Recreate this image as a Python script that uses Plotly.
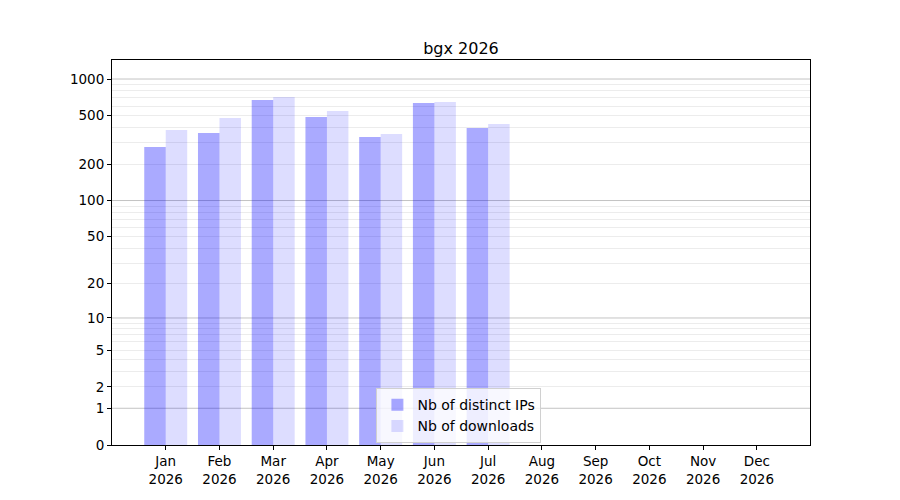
import math
import plotly.graph_objects as go

months = ["Jan", "Feb", "Mar", "Apr", "May", "Jun", "Jul", "Aug", "Sep", "Oct", "Nov", "Dec"]
year = "2026"
distinct_ips = [276, 361, 673, 488, 334, 635, 396, 0, 0, 0, 0, 0]
downloads = [382, 479, 712, 547, 354, 648, 428, 0, 0, 0, 0, 0]
tick_values = [0, 1, 2, 5, 10, 20, 50, 100, 200, 500, 1000]
major_grid = [1, 10, 100, 1000]
minor_grid = [2, 3, 4, 5, 6, 7, 8, 9, 20, 30, 40, 50, 60, 70, 80, 90,
              200, 300, 400, 500, 600, 700, 800, 900]


def tf(v):
    return math.log10(1 + v)


x = list(range(len(months)))
labels = [f"{m}<br>{year}" for m in months]

fig = go.Figure()
fig.add_bar(x=x, y=[tf(v) for v in distinct_ips], name="Nb of distinct IPs",
            marker=dict(color="rgba(0,0,255,0.333)", line=dict(width=0)),
            customdata=distinct_ips, hovertemplate="%{customdata}<extra></extra>")
fig.add_bar(x=x, y=[tf(v) for v in downloads], name="Nb of downloads",
            marker=dict(color="rgba(0,0,255,0.133)", line=dict(width=0)),
            customdata=downloads, hovertemplate="%{customdata}<extra></extra>")

for g in major_grid:
    fig.add_hline(y=tf(g), line=dict(color="#c4c4c4", width=1), layer="below")

fig.update_layout(
    width=900, height=500,
    margin=dict(l=104, r=98, t=52, b=63),
    paper_bgcolor="white", plot_bgcolor="white",
    font=dict(family="DejaVu Sans", size=13.5, color="black"),
    title=dict(text="bgx 2026", x=0.5, xref="paper", xanchor="center",
               y=1, yref="paper", yanchor="bottom", pad=dict(b=6),
               font=dict(size=16)),
    barmode="group", bargap=0.2, bargroupgap=0,
    showlegend=True,
    legend=dict(x=0.497, xanchor="center", y=0.005, yanchor="bottom",
                bgcolor="rgba(255,255,255,0.8)", bordercolor="#d0d0d0", borderwidth=1,
                font=dict(size=14), tracegroupgap=0),
    xaxis=dict(range=[-1, 11.99], tickmode="array", tickvals=x, ticktext=labels,
               showgrid=False, zeroline=False, showline=True, mirror=True,
               linecolor="black", linewidth=1, ticks="outside", ticklen=4,
               tickcolor="black"),
    yaxis=dict(range=[0, tf(1000) + 0.156], tickmode="array",
               tickvals=[tf(v) for v in tick_values],
               ticktext=[str(v) for v in tick_values],
               showgrid=False, zeroline=False, showline=True, mirror=True,
               linecolor="black", linewidth=1, ticks="outside", ticklen=4,
               tickcolor="black",
               minor=dict(tickmode="array", tickvals=[tf(v) for v in minor_grid],
                          showgrid=True, gridcolor="#ececec", gridwidth=1, ticks="")),
)

fig.write_html("out.html")
